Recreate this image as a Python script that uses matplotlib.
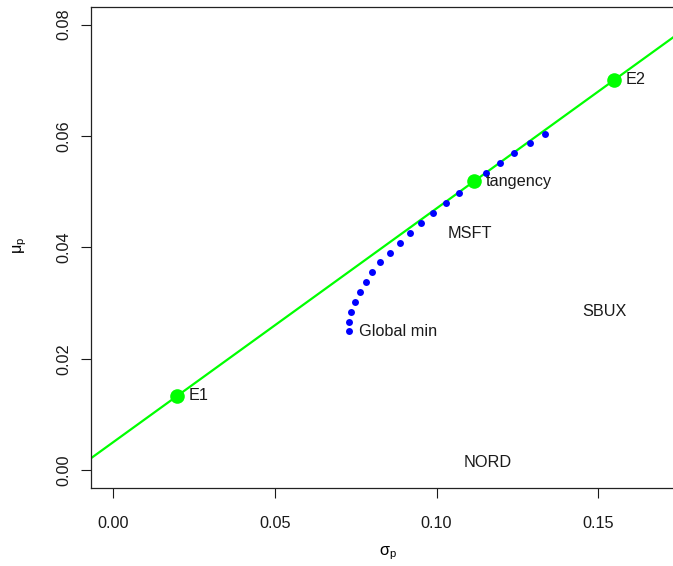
import matplotlib
matplotlib.use("Agg")
import matplotlib.pyplot as plt

plt.rcParams['font.family'] = ['Liberation Sans', 'DejaVu Sans']
plt.rcParams['mathtext.default'] = 'regular'

# efficient frontier (sigma, mu)
front_sd = [0.0730, 0.0730, 0.0736, 0.0747, 0.0763, 0.0782, 0.0800, 0.0825,
            0.0857, 0.0887, 0.0918, 0.0952, 0.0990, 0.1029, 0.1069, 0.1110,
            0.1154, 0.1196, 0.1238, 0.1290, 0.1334]
front_mu = [0.0250, 0.0266, 0.0284, 0.0301, 0.0319, 0.0337, 0.0355, 0.0373,
            0.0390, 0.0408, 0.0426, 0.0444, 0.0462, 0.0480, 0.0498, 0.0516,
            0.0533, 0.0551, 0.0569, 0.0587, 0.0603]

rf = 0.005
tan_sd, tan_mu = 0.1117, 0.0519
e_labels = ["E1", "E2"]
e_sd = [0.0199, 0.1549]
e_mu = [0.0134, 0.0701]

asset_names = ["MSFT", "NORD", "SBUX"]
asset_sd = [0.1104, 0.1157, 0.1518]
asset_mu = [0.0425, 0.0013, 0.0284]

xticks = [0.00, 0.05, 0.10, 0.15]
yticks = [0.00, 0.02, 0.04, 0.06, 0.08]

W, H = 673, 566
fig = plt.figure(figsize=(W / 100, H / 100), dpi=100)
ax = fig.add_axes([91 / W, (H - 488) / H, 594 / W, (488 - 6.7) / H])

ax.set_xlim(-0.0068, 0.1768)
ax.set_ylim(-0.0032, 0.0832)

# tangency line
ax.axline((0, rf), (tan_sd, tan_mu), color='#00FF00', lw=1.6, zorder=2)

# frontier
ax.plot(front_sd, front_mu, 'o', color='#0000FF', ms=5.0, mec='none', zorder=3)

# points on line
ax.plot([tan_sd], [tan_mu], 'o', color='#00FF00', ms=10.5, mec='none', zorder=4)
ax.plot(e_sd, e_mu, 'o', color='#00FF00', ms=10.5, mec='none', zorder=4)

fs = 11.7
txt_kw = dict(textcoords='offset pixels', va='center', ha='left', fontsize=fs, color='#1a1a1a')
ax.annotate("tangency", (tan_sd, tan_mu), xytext=(11, 0), **txt_kw)
for lab, s, m in zip(e_labels, e_sd, e_mu):
    ax.annotate(lab, (s, m), xytext=(11, 0), **txt_kw)
ax.annotate("Global min", (front_sd[0], front_mu[0]), xytext=(10, -1), **txt_kw)

for n, s, m in zip(asset_names, asset_sd, asset_mu):
    ax.text(s, m, n, ha='center', va='center', fontsize=fs, color='#1a1a1a')

ax.set_xticks(xticks)
ax.set_xticklabels([f"{v:.2f}" for v in xticks])
ax.set_yticks(yticks)
ax.set_yticklabels([f"{v:.2f}" for v in yticks], rotation=90, va='center')
ax.tick_params(axis='both', length=9.6 * 0.72, width=0.8, labelsize=fs, colors='#1a1a1a')
ax.tick_params(axis='x', pad=13.3)
ax.tick_params(axis='y', pad=7.5)

for sp in ['left', 'bottom', 'top']:
    ax.spines[sp].set_linewidth(0.9)
    ax.spines[sp].set_color('#222222')
ax.spines['right'].set_visible(False)

ax.set_xlabel(r'$\sigma_p$', fontsize=fs)
ax.xaxis.set_label_coords(0.5, (488 - 553) / (488 - 6.7))
ax.xaxis.label.set_va('center')
ax.set_ylabel(r'$\mu_p$', fontsize=fs)
ax.yaxis.set_label_coords((20 - 91) / 594, (488 - 245) / (488 - 6.7))
ax.yaxis.label.set_va('center')

fig.savefig("out.png", dpi=100)
